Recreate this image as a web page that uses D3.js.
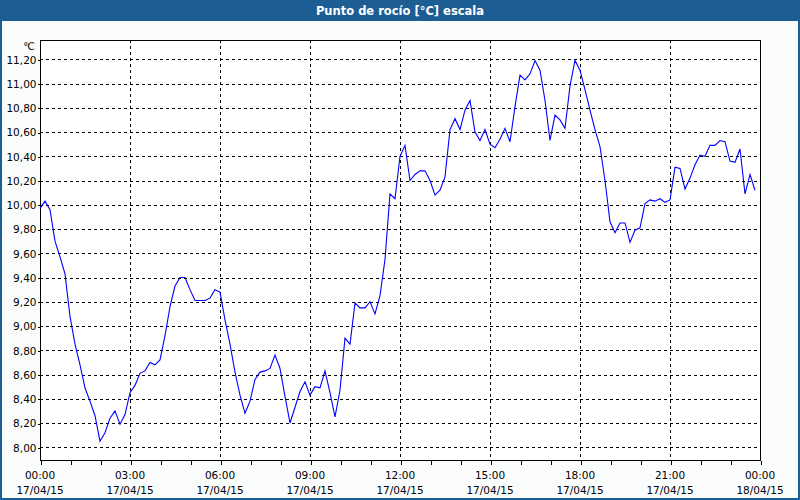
<!DOCTYPE html>
<html>
<head>
<meta charset="utf-8">
<script src="https://cdn.jsdelivr.net/npm/d3@7"></script>
<style>
  html, body { margin: 0; padding: 0; background: #ffffff; }
  svg { display: block; }
</style>
</head>
<body>
<svg id="chart" width="800" height="500"></svg>
<script>
// ---- Data (10-minute readings, 17/04/15 00:00 onward) ----
const title = "Punto de rocío [°C] escala";
const unitLabel = "℃";
const seriesStart = "2015-04-17T00:00:00";
const seriesStepMinutes = 10;
const dewPoint = [
  9.97, 10.03, 9.96, 9.70, 9.57, 9.43, 9.08, 8.85, 8.68, 8.49,
  8.38, 8.26, 8.05, 8.12, 8.24, 8.30, 8.19, 8.27, 8.45, 8.51,
  8.61, 8.63, 8.70, 8.68, 8.72, 8.92, 9.16, 9.33, 9.40, 9.40,
  9.30, 9.21, 9.21, 9.21, 9.23, 9.30, 9.28, 9.05, 8.85, 8.62,
  8.43, 8.28, 8.38, 8.56, 8.62, 8.63, 8.65, 8.76, 8.65, 8.42,
  8.20, 8.33, 8.46, 8.54, 8.43, 8.50, 8.49, 8.63, 8.45, 8.25,
  8.47, 8.90, 8.85, 9.19, 9.15, 9.15, 9.20, 9.10, 9.25, 9.55,
  10.09, 10.05, 10.40, 10.49, 10.20, 10.25, 10.28, 10.28, 10.20, 10.08,
  10.12, 10.23, 10.62, 10.71, 10.62, 10.78, 10.86, 10.60, 10.53, 10.62,
  10.50, 10.47, 10.54, 10.63, 10.52, 10.81, 11.07, 11.03, 11.08, 11.19,
  11.11, 10.86, 10.53, 10.74, 10.70, 10.63, 10.98, 11.19, 11.11, 10.95,
  10.78, 10.62, 10.48, 10.20, 9.86, 9.77, 9.85, 9.85, 9.69, 9.79,
  9.81, 10.01, 10.04, 10.03, 10.05, 10.02, 10.04, 10.31, 10.30, 10.13,
  10.22, 10.33, 10.41, 10.40, 10.49, 10.49, 10.53, 10.52, 10.36, 10.35,
  10.46, 10.09, 10.25, 10.12
];
const yTicks = [8.0, 8.2, 8.4, 8.6, 8.8, 9.0, 9.2, 9.4, 9.6, 9.8, 10.0, 10.2, 10.4, 10.6, 10.8, 11.0, 11.2];
const xDomain = ["2015-04-17T00:00:00", "2015-04-18T00:00:00"];
const xMajorTicks = [
  "2015-04-17T00:00:00", "2015-04-17T03:00:00", "2015-04-17T06:00:00",
  "2015-04-17T09:00:00", "2015-04-17T12:00:00", "2015-04-17T15:00:00",
  "2015-04-17T18:00:00", "2015-04-17T21:00:00", "2015-04-18T00:00:00"
];
const yDomain = [7.895, 11.359];

// ---- Build ----
const svg = d3.select("#chart");
const W = 800, H = 500;
const plot = { left: 40, right: 760, top: 40, bottom: 460 };
const font = "'DejaVu Sans', Verdana, sans-serif";

const t0 = new Date(seriesStart);
const data = dewPoint.map((v, i) => ({ t: new Date(t0.getTime() + i * seriesStepMinutes * 60000), v }));

const x = d3.scaleTime().domain(xDomain.map(d => new Date(d))).range([plot.left, plot.right]);
const y = d3.scaleLinear().domain(yDomain).range([plot.bottom, plot.top]);

// background + frame
svg.append("rect").attr("x", 0).attr("y", 0).attr("width", W).attr("height", H).attr("fill", "#1c5e94");
svg.append("rect").attr("x", 2).attr("y", 21).attr("width", W - 4).attr("height", H - 23).attr("fill", "#fbfdfd");

// title
svg.append("text").attr("x", 400).attr("y", 15).attr("text-anchor", "middle")
  .attr("fill", "#ffffff").attr("font-family", font).attr("font-weight", "bold")
  .attr("font-size", "11.5px").text(title);

// plot area
svg.append("rect").attr("x", plot.left).attr("y", plot.top)
  .attr("width", plot.right - plot.left).attr("height", plot.bottom - plot.top)
  .attr("fill", "#ffffff");

// horizontal grid
svg.append("g").selectAll("line").data(yTicks).join("line")
  .attr("x1", plot.left).attr("x2", plot.right)
  .attr("y1", d => Math.round(y(d)) + 0.5).attr("y2", d => Math.round(y(d)) + 0.5)
  .attr("stroke", "#000").attr("stroke-width", 1).attr("stroke-dasharray", "3,3")
  .attr("shape-rendering", "crispEdges");

// vertical grid
const majors = xMajorTicks.map(d => new Date(d));
svg.append("g").selectAll("line").data(majors.slice(1, -1)).join("line")
  .attr("x1", d => Math.round(x(d)) + 0.5).attr("x2", d => Math.round(x(d)) + 0.5)
  .attr("y1", plot.top).attr("y2", plot.bottom)
  .attr("stroke", "#000").attr("stroke-width", 1).attr("stroke-dasharray", "3,3")
  .attr("shape-rendering", "crispEdges");

// border
svg.append("rect").attr("x", plot.left + 0.5).attr("y", plot.top + 0.5)
  .attr("width", plot.right - plot.left).attr("height", plot.bottom - plot.top)
  .attr("fill", "none").attr("stroke", "#000").attr("stroke-width", 1)
  .attr("shape-rendering", "crispEdges");

// x axis (hourly minor ticks, labels every 3h)
const xAxis = d3.axisBottom(x).ticks(d3.timeHour.every(1)).tickSize(4).tickFormat("");
const gx = svg.append("g").attr("transform", `translate(0.5,${plot.bottom + 0.5})`).call(xAxis);
gx.select(".domain").remove();
gx.selectAll(".tick line").attr("stroke", "#000").attr("shape-rendering", "crispEdges");

const fmtTime = d3.timeFormat("%H:%M");
const fmtDate = d3.timeFormat("%d/%m/%y");
const xl = svg.append("g").selectAll("g").data(majors).join("g")
  .attr("transform", d => `translate(${x(d)},0)`);
xl.append("text").attr("y", 479).attr("text-anchor", "middle")
  .attr("font-family", font).attr("font-size", "10.5px").attr("fill", "#000").text(d => fmtTime(d));
xl.append("text").attr("y", 494).attr("text-anchor", "middle")
  .attr("font-family", font).attr("font-size", "10.5px").attr("fill", "#000").text(d => fmtDate(d));

// y axis
const yAxis = d3.axisLeft(y).tickValues(yTicks).tickSize(3)
  .tickFormat(d => d3.format(".2f")(d).replace(".", ","));
const gy = svg.append("g").attr("transform", `translate(${plot.left + 0.5},0.5)`).call(yAxis);
gy.select(".domain").remove();
gy.selectAll(".tick line").attr("stroke", "#000").attr("shape-rendering", "crispEdges");
gy.selectAll(".tick text").attr("font-family", font).attr("font-size", "10.5px")
  .attr("fill", "#000").attr("x", -4);

svg.append("text").attr("x", 35).attr("y", 50).attr("text-anchor", "end")
  .attr("font-family", font).attr("font-size", "10.5px").attr("fill", "#000").text(unitLabel);

// line
const line = d3.line().x(d => x(d.t)).y(d => y(d.v));
svg.append("path").datum(data).attr("d", line)
  .attr("fill", "none").attr("stroke", "#0000ff").attr("stroke-width", 1.1);
</script>
</body>
</html>
